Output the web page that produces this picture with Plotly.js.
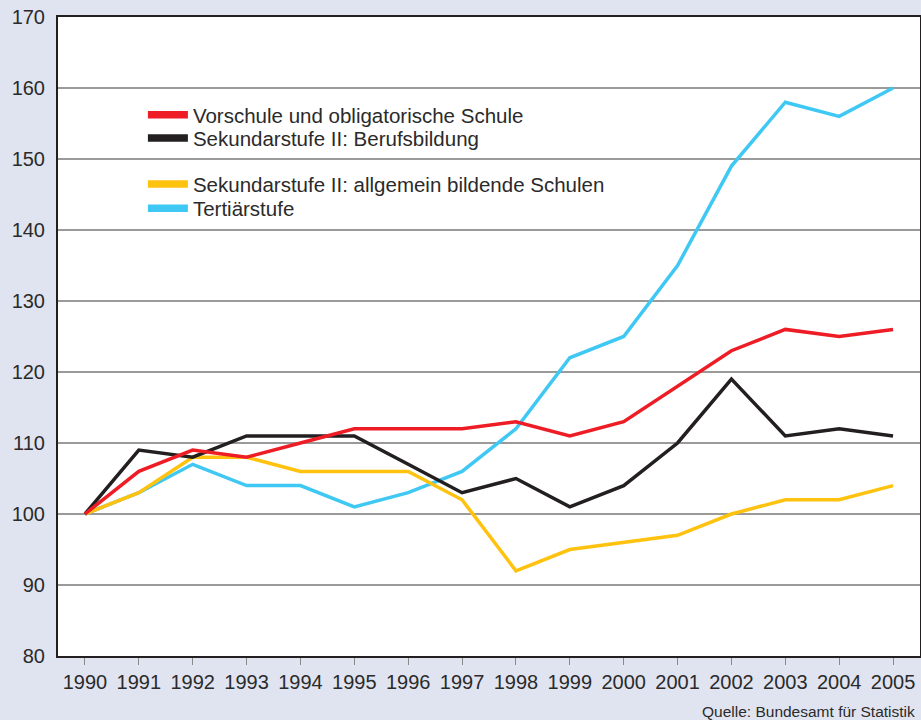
<!DOCTYPE html>
<html>
<head>
<meta charset="utf-8">
<script src="https://cdn.plot.ly/plotly-3.0.1.min.js"></script>
<style>html,body{margin:0;padding:0;background:#e0e4f0;}#chart{width:921px;height:720px;}</style>
</head>
<body>
<div id="chart"></div>
<script>
const years = [1990,1991,1992,1993,1994,1995,1996,1997,1998,1999,2000,2001,2002,2003,2004,2005];
const vorschule = [100,106,109,108,110,112,112,112,113,111,113,118,123,126,125,126];
const berufsbildung = [100,109,108,111,111,111,107,103,105,101,104,110,119,111,112,111];
const allgemeinbildend = [100,103,108,108,106,106,106,102,92,95,96,97,100,102,102,104];
const tertiaer = [100,103,107,104,104,101,103,106,112,122,125,135,149,158,156,160];
const seriesNames = ["Vorschule und obligatorische Schule","Sekundarstufe II: Berufsbildung","Sekundarstufe II: allgemein bildende Schulen","Tertiärstufe"];
const seriesColors = ["#ee1c25","#231f20","#ffc20e","#40c8f4"];
const yTicks = [80,90,100,110,120,130,140,150,160,170];
const source = "Quelle: Bundesamt für Statistik";

const values = [vorschule, berufsbildung, allgemeinbildend, tertiaer];
const legendIds = ['legend','legend2','legend3','legend4'];
const legendY = [0.8466, 0.8102, 0.7382, 0.7006];
const drawOrder = [3,2,1,0];
const traces = [];
drawOrder.forEach(i => {
  traces.push({x: years, y: values[i], type: 'scatter', mode: 'lines', name: seriesNames[i],
    line: {color: seriesColors[i], width: 3.5}, showlegend: false, hoverinfo: 'x+y+name'});
});
// legend entries (thicker swatches, same series)
[0,1,2,3].forEach(i => {
  traces.push({x: [null], y: [null], type: 'scatter', mode: 'lines', name: seriesNames[i],
    line: {color: seriesColors[i], width: 7.5}, legend: legendIds[i], showlegend: true, hoverinfo: 'skip'});
});

const font = {family: 'Liberation Sans, Arial, sans-serif', color: '#2b2a2a'};
const layout = {
  width: 921, height: 720,
  paper_bgcolor: '#e0e4f0', plot_bgcolor: '#ffffff',
  margin: {l: 58, r: 1, t: 17, b: 64},
  font: Object.assign({size: 20}, font),
  showlegend: true,
  xaxis: {range: [1989.5, 2005.5], tickvals: years, ticktext: years.map(String),
    ticks: 'outside', ticklen: 7, tickcolor: '#8a8a8a', tickwidth: 1,
    showgrid: false, zeroline: false, showline: true, linecolor: '#231f20', linewidth: 2, mirror: true,
    tickfont: Object.assign({size: 20}, font), fixedrange: true},
  xaxis2: {range: [1989.5, 2005.5], overlaying: 'x', anchor: 'y', side: 'bottom', tickvals: years,
    showticklabels: false, ticks: 'inside', ticklen: 9, tickcolor: '#8a8a8a', tickwidth: 1,
    showgrid: false, zeroline: false, showline: false},
  yaxis: {range: [80, 170], tickvals: yTicks, ticks: '', ticklabelstandoff: 7,
    showgrid: true, gridcolor: '#9a9a9a', gridwidth: 1.3, zeroline: false,
    showline: true, linecolor: '#231f20', linewidth: 2, mirror: true,
    tickfont: Object.assign({size: 20}, font), fixedrange: true},
  annotations: [{text: source, xref: 'paper', yref: 'paper', x: 1.0, y: 0, xanchor: 'right', yanchor: 'middle',
    yshift: -55, xshift: -3, showarrow: false, font: Object.assign({size: 15.5}, font)}]
};
legendIds.forEach((id, i) => {
  layout[id] = {x: 0.0985, y: legendY[i], xanchor: 'left', yanchor: 'middle', bgcolor: 'rgba(0,0,0,0)',
    font: Object.assign({size: 20.5}, font), itemwidth: 40};
});
Plotly.newPlot('chart', traces, layout, {displayModeBar: false, staticPlot: true});
</script>
</body>
</html>
